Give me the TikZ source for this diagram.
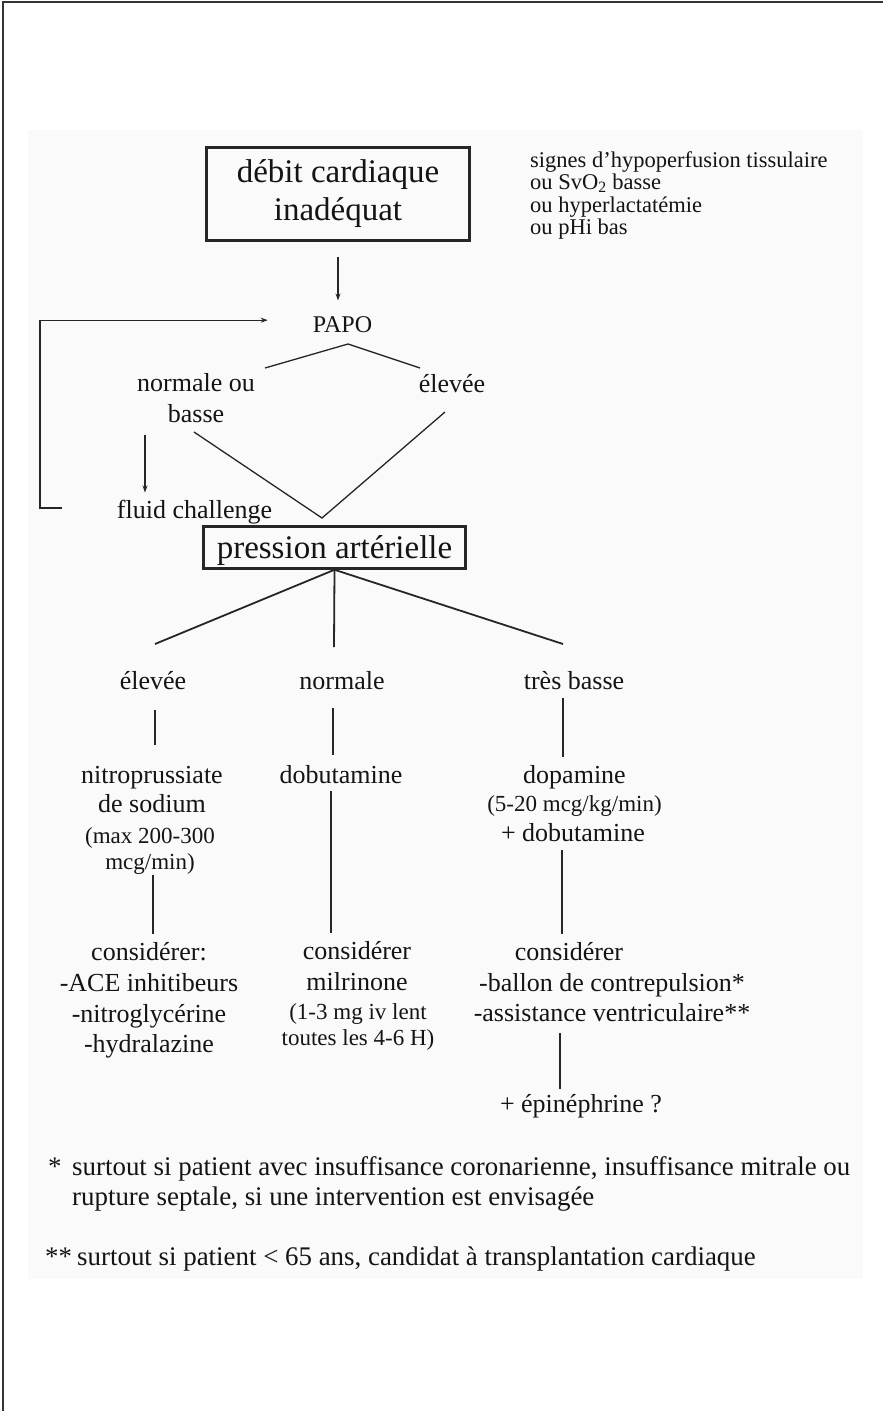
\documentclass[tikz,border=0pt]{standalone}
\usepackage{fontspec}
\setmainfont{Liberation Serif}
\usetikzlibrary{arrows.meta,calc}
\newcommand\myfs[2]{\fontsize{#1}{#2}\selectfont}
\begin{document}
\begin{tikzpicture}[x=1pt,y=-1pt,
  txt/.style={inner sep=0pt, text=black!92, font=\myfs{26}{30.3}},
  sm/.style={inner sep=0pt, text=black!92, font=\myfs{23}{26.5}},
  fn/.style={inner sep=0pt, text=black!92, font=\myfs{26.9}{30}},
  bigbox/.style={draw=black!85, line width=3pt, inner sep=0pt, text=black!92, align=center},
  conn/.style={draw=black!85, line width=1.3pt},
  branch/.style={draw=black!85, line width=1.8pt},
  arr/.style={conn, -{Stealth[length=7pt,width=5pt]}}]
\useasboundingbox (0,0) rectangle (883,1411);
\fill[white] (0,0) rectangle (883,1411);
\fill[black!2] (28,130) rectangle (863,1279);
\draw[line width=2pt, black!80] (3,1411) -- (3,2) -- (883,2);

% nodes
\node[bigbox, minimum width=263pt, minimum height=93pt, font=\myfs{33}{38}] (top) at (338,194) {débit cardiaque\\inadéquat};
\node[txt, font=\myfs{22.5}{22.6}, align=left, anchor=north west] (signes) at (530,151) {signes d'hypoperfusion tissulaire\\ou SvO\textsubscript{2} basse\\ou hyperlactatémie\\ou pHi bas};
\node[txt, font=\myfs{24}{28}, anchor=base] (papo) at (342.5,332) {PAPO};
\node[txt, font=\myfs{26}{31.3}, align=center] (normb) at (196,398.4) {normale ou\\basse};
\node[txt, anchor=base] (elevA) at (452,392) {élevée};
\node[txt, anchor=base] (fluid) at (194.5,518) {fluid challenge};
\node[bigbox, line width=2.5pt, font=\myfs{33}{38}, anchor=base, minimum width=262pt, text height=31.5pt, text depth=10.5pt] (press) at (334.5,558) {pression artérielle};

\node[txt, anchor=base] (elevB) at (153,689) {élevée};
\node[txt, anchor=base] (normB) at (342,689) {normale};
\node[txt, anchor=base] (tresB) at (574,689) {très basse};

\node[txt, align=center, font=\myfs{26}{29.5}] (nitro) at (152,789.4) {nitroprussiate\\de sodium};
\node[sm, align=center] (nitrod) at (150,850.8) {(max 200-300\\mcg/min)};
\node[txt, anchor=base] (dobu) at (341,783.5) {dobutamine};
\node[txt, anchor=base] (dopa) at (574.5,783.5) {dopamine};
\node[sm, anchor=base] (dopad) at (574.5,811.6) {(5-20 mcg/kg/min)};
\node[txt, anchor=base] (dopap) at (573,841.4) {+ dobutamine};

\node[txt, align=center, font=\myfs{26}{30.8}] (consL) at (149,1000.5) {considérer:\\-ACE inhitibeurs\\-nitroglycérine\\-hydralazine};
\node[txt, align=center, font=\myfs{26}{31}] (consM) at (357,966) {considérer\\milrinone};
\node[sm, align=center, font=\myfs{23}{26.4}] (consMd) at (358,1027) {(1-3 mg iv lent\\toutes les 4-6 H)};
\node[txt, anchor=base] (consR) at (569,960) {considérer};
\node[txt, align=center, font=\myfs{26}{30.5}] (consRl) at (612,997.5) {-ballon de contrepulsion*\\-assistance ventriculaire**};
\node[txt, anchor=base] (epi) at (581,1112) {+ épinéphrine ?};

\node[fn, anchor=base west] (fn1s) at (48,1175) {*};
\node[fn, anchor=base west] (fn1a) at (72,1175) {surtout si patient avec insuffisance coronarienne, insuffisance mitrale ou};
\node[fn, anchor=base west] (fn1b) at (72,1205) {rupture septale, si une intervention est envisagée};
\node[fn, anchor=base west] (fn2s) at (45,1265) {**};
\node[fn, anchor=base west] (fn2) at (77,1265) {surtout si patient < 65 ans, candidat à transplantation cardiaque};

% named free ends
\coordinate (fbS) at (62,508);
\coordinate (fbC) at (40,320);
\coordinate (cL) at (265,368);
\coordinate (cA) at (348,344);
\coordinate (cR) at (420,368);
\coordinate (vL) at (194,432);
\coordinate (vB) at (322,518);
\coordinate (vR) at (445,412);
\coordinate (bL) at (155,644);
\coordinate (bM) at (334,647);
\coordinate (bR) at (563,644);

% connectors
\draw[arr, shorten <=15pt, shorten >=15.5pt] (top.south) -- (top.south |- papo.north);
\draw[arr, shorten >=45pt] (fbS) -| (fbC) |- ([yshift=4pt]papo.west);
\draw[conn] (cL) -- (cA) -- (cR);
\draw[conn] (vL) -- (vB) -- (vR);
\draw[arr] ([xshift=-51pt,yshift=-12pt]normb.south) -- ([xshift=-49.5pt,yshift=7pt]fluid.north);
\draw[branch] (bL) -- (press.south) -- (bR);
\draw[branch] (press.south) -- (bM);
\draw[conn] ([xshift=2pt,yshift=-21pt]elevB.south) -- ([xshift=3pt,yshift=20.7pt]nitro.north);
\draw[conn] ([xshift=-9pt,yshift=-19pt]normB.south) -- ([xshift=-8pt,yshift=10.7pt]dobu.north);
\draw[conn] ([xshift=-11pt,yshift=-9pt]tresB.south) -- ([xshift=-11.5pt,yshift=8.7pt]dopa.north);
\draw[conn] ([xshift=3pt]nitrod.south) -- ([xshift=4pt,yshift=8pt]consL.north);
\draw[conn] ([xshift=-10pt,yshift=-7pt]dobu.south) -- ([xshift=-26pt,yshift=8pt]consM.north);
\draw[conn] ([xshift=-11pt,yshift=-8.6pt]dopap.south) -- ([xshift=-7pt,yshift=8pt]consR.north);
\draw[conn] ([xshift=-52pt,yshift=-11pt]consRl.south) -- ([xshift=-21pt,yshift=5pt]epi.north);
\end{tikzpicture}
\end{document}
